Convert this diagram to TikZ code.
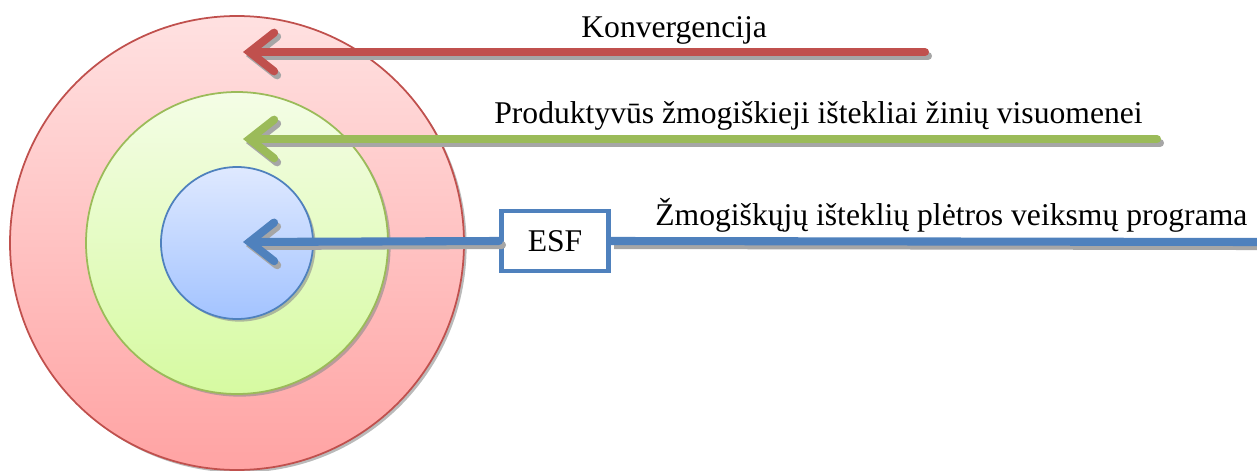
\documentclass[tikz,border=0pt]{standalone}
\usepackage{fontspec}
\setmainfont{Liberation Serif}
\usetikzlibrary{arrows.meta,shadows,positioning}

\definecolor{konvred}{HTML}{C0504D}
\definecolor{prodgreen}{HTML}{9BBB59}
\definecolor{progblue}{HTML}{4F81BD}
\definecolor{redtop}{HTML}{FFE1E1}
\definecolor{redbot}{HTML}{FFA3A3}
\definecolor{greentop}{HTML}{F4FDE6}
\definecolor{greenbot}{HTML}{D6FAA1}
\definecolor{bluetop}{HTML}{DFE9FF}
\definecolor{bluebot}{HTML}{A3C3FF}

\begin{document}
\begin{tikzpicture}[x=0.02cm,y=-0.02cm,
  ring/.style={line width=1pt,drop shadow={shadow xshift=1.5pt,shadow yshift=-1.5pt,fill=black!45,opacity=0.6}},
  bigarrow/.style={line width=4.6pt,line cap=round,
    -{Straight Barb[length=14pt,width=22pt,line cap=round,line join=miter]}},
  shadowline/.style={draw=black!35},
  label/.style={anchor=base west,inner sep=0pt,font=\fontsize{18}{22}\selectfont}]
\useasboundingbox (0,0) rectangle (1257,470);
\coordinate (ctr) at (237,243);
% circles
\draw[ring,draw=konvred,top color=redtop,bottom color=redbot] (ctr) circle [radius=227];
\draw[ring,draw=prodgreen,top color=greentop,bottom color=greenbot] (ctr) circle [radius=151];
\draw[ring,draw=progblue,top color=bluetop,bottom color=bluebot] (ctr) circle [radius=76];
% arrow ends
\coordinate (tip1) at (243,52);
\coordinate (tip2) at (243,139);
\coordinate (tip3) at (243,242);
\coordinate (konv) at (925,52);
\coordinate (prod) at (1157,139);
\coordinate (prog) at (1262,242);
% ESF box
\node[draw=progblue,line width=2.6pt,fill=white,minimum width=2.15cm,minimum height=1.2cm,
  font=\fontsize{18}{22}\selectfont] (esf) at (555,241) {ESF};
% arrows, shadow first
\draw[bigarrow,shadowline] ([shift={(3,4)}]konv) -- ([shift={(3,4)}]tip1);
\draw[bigarrow,draw=konvred] (konv) -- (tip1);
\draw[bigarrow,shadowline] ([shift={(3,4)}]prod) -- ([shift={(3,4)}]tip2);
\draw[bigarrow,draw=prodgreen] (prod) -- (tip2);
\draw[line width=4.6pt,shadowline] ([shift={(3,4)}]prog) -- ([shift={(3,4)}]esf.east);
\draw[line width=4.6pt,draw=progblue] (prog) -- (esf.east);
\draw[bigarrow,shadowline] ([shift={(3,4)}]esf.west) -- ([shift={(3,4)}]tip3);
\draw[bigarrow,draw=progblue] (esf.west) -- (tip3);
% texts
\node[label] (konvtxt) at (581,37) {Konvergencija};
\node[label] (prodtxt) at (494,123) {Produktyvūs žmogiškieji ištekliai žinių visuomenei};
\node[label] (progtxt) at (655,225) {Žmogiškųjų išteklių plėtros veiksmų programa};
\end{tikzpicture}
\end{document}
